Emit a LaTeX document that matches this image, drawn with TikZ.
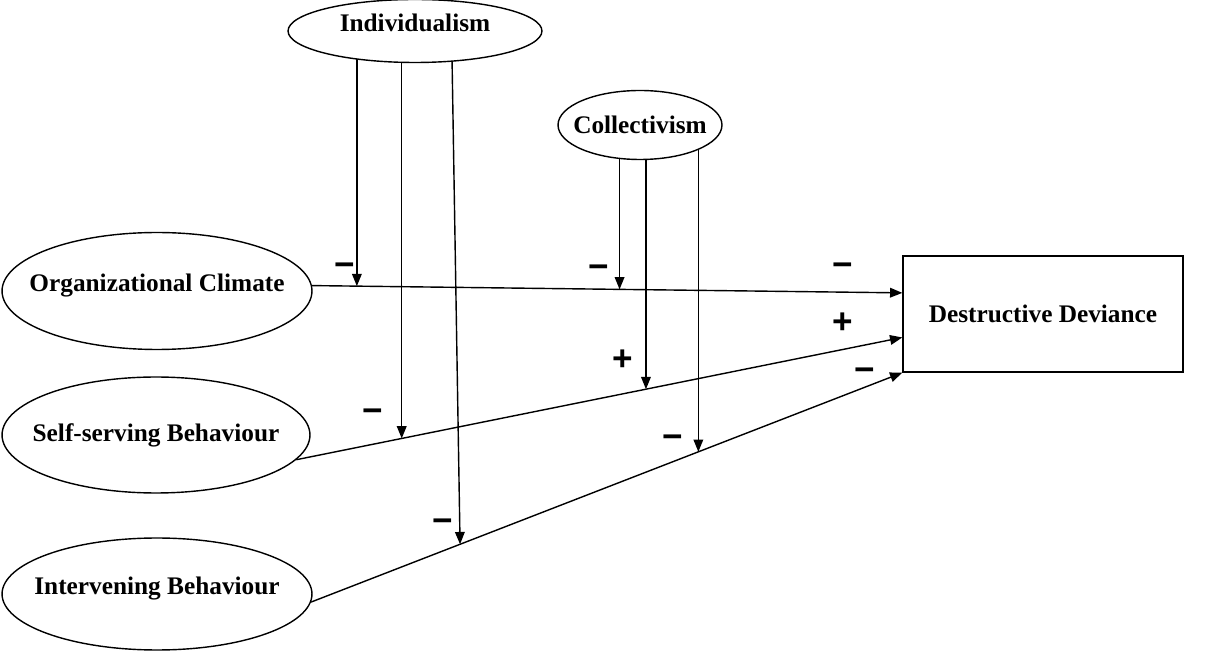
\documentclass[tikz,border=0pt]{standalone}
\usepackage{fontspec}
\setmainfont{Liberation Serif}
\newfontfamily\signfont{Liberation Sans}
\usetikzlibrary{arrows.meta,calc,shapes.geometric}

\begin{document}
\begin{tikzpicture}[x=0.02cm, y=-0.02cm,
    oval/.style={ellipse, draw, line width=0.8pt, fill=white, inner xsep=-12pt, inner ysep=0pt, font=\fontsize{14.4}{16}\selectfont\bfseries},
    raised/.style={text height=9.5pt, text depth=8.5pt},
    link/.style={-{Triangle[length=7pt,width=5.5pt]}, line width=0.8pt},
    sign/.style={font=\signfont\fontsize{20}{20}\selectfont\bfseries, inner sep=0pt}
]
    \useasboundingbox (0,0) rectangle (1211,651);

    % Moderator centres (ovals are drawn later, over the arrow tails)
    \coordinate (indc) at (415,31);
    \coordinate (colc) at (640,125);

    % Predictors and outcome
    \node[oval, raised, minimum width=6.2cm, minimum height=2.34cm] (clim) at (157,291) {Organizational Climate};
    \node[oval, minimum width=6.16cm, minimum height=2.32cm] (self) at (156,435) {Self-serving Behaviour};
    \node[oval, raised, minimum width=6.2cm, minimum height=2.24cm] (interv) at (157,594) {Intervening Behaviour};
    \node[draw, line width=0.8pt, minimum width=5.6cm, minimum height=2.32cm, font=\fontsize{14.4}{16}\selectfont\bfseries] (dev) at (1043,314) {Destructive Deviance};

    % Direct paths
    \draw[link] (clim.2) -- coordinate[pos=0.076] (i1) coordinate[pos=0.521] (c1) ($(dev.north west)!0.32!(dev.south west)$);
    \draw[link] (self.-10) -- coordinate[pos=0.174] (i2) coordinate[pos=0.577] (c2) ($(dev.north west)!0.7!(dev.south west)$);
    \draw[link] (interv.-3) -- coordinate[pos=0.252] (i3) coordinate[pos=0.655] (c3) (dev.south west);

    % Moderating paths
    \foreach \p in {i1,i2}
        \draw[link] (\p |- indc) -- (\p);
    \draw[link] ($(i3 |- indc)+(-8.5,0)$) -- (i3);
    \foreach \p in {c1,c2,c3}
        \draw[link] (\p |- colc) -- (\p);

    % Moderators
    \node[oval, raised, minimum width=5.08cm, minimum height=1.26cm] (ind) at (indc) {Individualism};
    \node[oval, minimum width=3.28cm, minimum height=1.38cm] (col) at (colc) {Collectivism};

    % Signs
    \node[sign] (s1) at (345,270) {−};
    \node[sign] (s2) at (599,272) {−};
    \node[sign] (s3) at (843,270) {−};
    \node[sign] (s4) at (843,323) {+};
    \node[sign] (s5) at (623,360) {+};
    \node[sign] (s6) at (373,416) {−};
    \node[sign] (s7) at (865,375) {−};
    \node[sign] (s8) at (673,442) {−};
    \node[sign] (s9) at (443,526) {−};
\end{tikzpicture}
\end{document}
